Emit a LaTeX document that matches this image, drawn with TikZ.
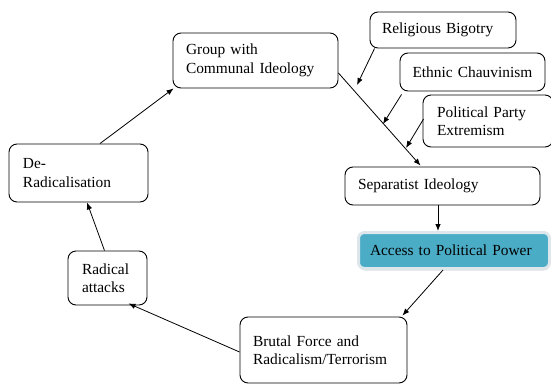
\documentclass[tikz,border=0pt]{standalone}
\usepackage{fontspec}
\setmainfont{Liberation Serif}
\usetikzlibrary{arrows.meta,shadows,calc}
\definecolor{teal}{HTML}{4BACC6}
\definecolor{glow}{HTML}{DDE7EB}
\hyphenpenalty=10000
\exhyphenpenalty=10000
\begin{document}
\begin{tikzpicture}[x=1pt,y=-1pt,
  bx/.style={draw, rounded corners=8pt, line width=0.9pt, align=left, inner ysep=0pt,
     font=\fontsize{15.4}{18.5}\selectfont},
  acc/.style={draw=glow, line width=3pt, fill=teal, rounded corners=6pt, align=left, inner ysep=0pt,
     drop shadow={shadow xshift=0.5pt, shadow yshift=-2pt, opacity=0.25},
     font=\fontsize{15.4}{18.5}\selectfont},
  arr/.style={-{Latex[length=7pt,width=5.5pt]}, line width=0.8pt}]
\useasboundingbox (0,0) rectangle (551,383);
\node[bx, minimum width=146pt, minimum height=36pt, inner xsep=12pt, text width=122pt] (rb) at (443,30) {Religious Bigotry};
\node[bx, minimum width=145pt, minimum height=38pt, inner xsep=12.5pt, text width=120pt] (ec) at (472.5,72) {Ethnic Chauvinism};
\node[bx, minimum width=130pt, minimum height=52pt, inner xsep=14pt, text width=102pt] (pp) at (488,121) {Political Party\\Extremism};
\node[bx, minimum width=165pt, minimum height=55pt, inner xsep=13pt, text width=139pt] (group) at (255.5,60.5) {Group with\\Communal Ideology};
\node[bx, minimum width=195pt, minimum height=38pt, inner xsep=13pt, text width=169pt] (sep) at (442.5,186) {Separatist Ideology};
\node[acc, minimum width=191pt, minimum height=36pt, inner xsep=11.5pt, text width=168pt] (access) at (454,250.5) {Access to Political Power};
\node[bx, minimum width=139pt, minimum height=58pt, inner xsep=14pt, text width=111pt] (derad) at (78.5,173) {De-\\Radicalisation};
\node[bx, minimum width=79pt, minimum height=54pt, inner xsep=14pt, text width=51pt] (radical) at (107.5,278) {Radical\\attacks};
\node[bx, minimum width=167pt, minimum height=66pt, inner xsep=13pt, text width=141pt] (brutal) at (323.5,350) {Brutal Force and\\Radicalism/Terrorism\par\vspace{7pt}};
% main line group -> separatist
\coordinate (gstart) at ($(group.east)+(0,12.5)$);
\coordinate (send) at ($(sep.north)+(-22,-1)$);
\draw[arr] (gstart) -- (send);
\coordinate (rbtip) at (357,85);
\coordinate (ectip) at (383,124);
\coordinate (pptip) at (406,148);
\draw[arr] ([xshift=5pt]rb.south west) -- (rbtip);
\draw[arr] ([xshift=2pt,yshift=-3pt]ec.south west) -- (ectip);
\draw[arr] ([xshift=1pt,yshift=2pt]pp.west) -- (pptip);
\draw[arr] ([xshift=-4.5pt]sep.south) -- ([xshift=-4.5pt]sep.south |- access.north);
\draw[arr] ([xshift=-11pt]access.south) -- ([xshift=-5pt,yshift=1pt]brutal.north east);
\draw[arr] ([yshift=-2pt]brutal.west) -- ([xshift=-19pt,yshift=2pt]radical.south east);
\draw[arr] ([xshift=-3pt]radical.north) -- ([xshift=8.5pt]derad.south);
\draw[arr] ([xshift=21.5pt]derad.north) -- ([xshift=1pt]group.south west);
\end{tikzpicture}
\end{document}
